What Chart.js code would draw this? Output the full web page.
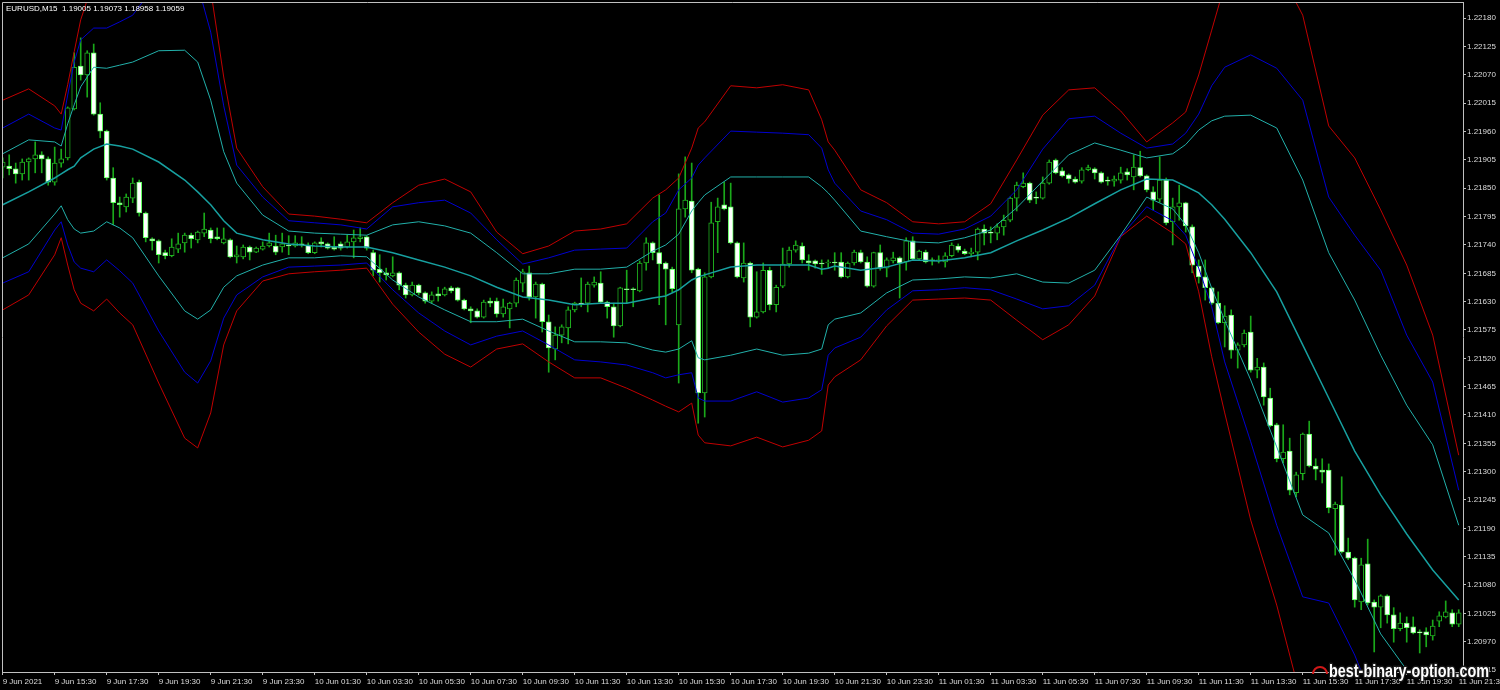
<!DOCTYPE html>
<html lang="en">
<head>
<meta charset="UTF-8">
<title>EURUSD,M15</title>
<style>
  html, body { margin: 0; padding: 0; background: #000; }
  canvas { display: block; }
</style>
</head>
<body>
<canvas id="chart" width="1500" height="690"></canvas>
<script src="https://cdn.jsdelivr.net/npm/chart.js"></script>
<script>
// M15 bars, bar 0 = 9 Jun 13:30, bar 224 = 11 Jun 21:30
const opens = [
  1.21891,1.21893,1.21888,1.21878,1.21901,1.21907,1.21915,1.21907,1.21862,1.21899,1.21909,1.22004,1.22087,1.22070,1.22113,
  1.21994,1.21961,1.21870,1.21822,1.21814,1.21831,1.21862,1.21802,1.21752,1.21748,1.21725,1.21719,1.21732,1.21744,1.21759,
  1.21750,1.21763,1.21769,1.21756,1.21744,1.21750,1.21717,1.21717,1.21736,1.21726,1.21732,1.21738,1.21738,1.21736,1.21740,
  1.21738,1.21742,1.21740,1.21725,1.21746,1.21742,1.21736,1.21742,1.21736,1.21746,1.21752,1.21756,1.21725,1.21693,1.21686,
  1.21680,1.21686,1.21662,1.21643,1.21662,1.21647,1.21631,1.21645,1.21643,1.21657,1.21657,1.21633,1.21616,1.21612,1.21600,
  1.21631,1.21631,1.21606,1.21616,1.21627,1.21666,1.21686,1.21639,1.21664,1.21591,1.21538,1.21565,1.21579,1.21614,1.21627,
  1.21627,1.21662,1.21666,1.21629,1.21620,1.21583,1.21655,1.21655,1.21651,1.21705,1.21744,1.21725,1.21705,1.21693,1.21585,
  1.21810,1.21825,1.21693,1.21453,1.21678,1.21785,1.21818,1.21814,1.21744,1.21676,1.21705,1.21600,1.21610,1.21691,1.21624,
  1.21660,1.21703,1.21730,1.21738,1.21709,1.21709,1.21705,1.21705,1.21707,1.21707,1.21678,1.21705,1.21725,1.21707,1.21660,
  1.21725,1.21695,1.21709,1.21715,1.21707,1.21748,1.21713,1.21726,1.21711,1.21709,1.21707,1.21719,1.21738,1.21728,1.21723,
  1.21726,1.21771,1.21765,1.21763,1.21775,1.21788,1.21831,1.21853,1.21860,1.21833,1.21831,1.21860,1.21905,1.21884,1.21876,
  1.21868,1.21864,1.21886,1.21888,1.21880,1.21866,1.21864,1.21866,1.21882,1.21872,1.21890,1.21874,1.21843,1.21829,1.21866,
  1.21785,1.21814,1.21822,1.21775,1.21699,1.21678,1.21657,1.21627,1.21589,1.21604,1.21536,1.21546,1.21571,1.21497,1.21503,
  1.21443,1.21391,1.21325,1.21340,1.21259,1.21296,1.21373,1.21311,1.21303,1.21303,1.21228,1.21235,1.21144,1.21132,1.21047,
  1.21121,1.21047,1.21037,1.21059,1.21022,1.20995,1.21006,1.20999,1.20989,1.20989,1.20981,1.21010,1.21018,1.21026,1.21004
];
const highs = [
  1.21909,1.21915,1.21899,1.21907,1.21909,1.21940,1.21921,1.21911,1.21930,1.21926,1.22008,1.22113,1.22142,1.22117,1.22130,
  1.22016,1.21963,1.21890,1.21833,1.21839,1.21870,1.21866,1.21804,1.21754,1.21750,1.21730,1.21752,1.21763,1.21763,1.21763,
  1.21767,1.21802,1.21773,1.21773,1.21773,1.21752,1.21738,1.21740,1.21738,1.21736,1.21746,1.21763,1.21759,1.21763,1.21758,
  1.21758,1.21756,1.21744,1.21746,1.21754,1.21744,1.21756,1.21746,1.21759,1.21769,1.21773,1.21758,1.21730,1.21721,1.21695,
  1.21717,1.21688,1.21666,1.21668,1.21664,1.21649,1.21649,1.21658,1.21658,1.21660,1.21658,1.21635,1.21620,1.21616,1.21633,
  1.21637,1.21637,1.21635,1.21629,1.21676,1.21693,1.21699,1.21668,1.21666,1.21604,1.21581,1.21585,1.21620,1.21629,1.21676,
  1.21668,1.21678,1.21688,1.21631,1.21627,1.21658,1.21691,1.21657,1.21709,1.21754,1.21746,1.21837,1.21707,1.21697,1.21878,
  1.21911,1.21899,1.21695,1.21686,1.21823,1.21831,1.21862,1.21860,1.21746,1.21744,1.21707,1.21688,1.21705,1.21697,1.21662,
  1.21734,1.21736,1.21748,1.21744,1.21721,1.21711,1.21711,1.21711,1.21725,1.21725,1.21707,1.21730,1.21730,1.21717,1.21726,
  1.21740,1.21715,1.21726,1.21717,1.21754,1.21756,1.21730,1.21730,1.21715,1.21719,1.21725,1.21744,1.21742,1.21732,1.21734,
  1.21773,1.21779,1.21775,1.21781,1.21798,1.21833,1.21862,1.21880,1.21862,1.21843,1.21872,1.21905,1.21907,1.21890,1.21878,
  1.21872,1.21890,1.21895,1.21890,1.21882,1.21872,1.21874,1.21891,1.21888,1.21915,1.21922,1.21876,1.21853,1.21911,1.21870,
  1.21831,1.21856,1.21823,1.21779,1.21711,1.21711,1.21658,1.21649,1.21622,1.21614,1.21550,1.21575,1.21602,1.21520,1.21511,
  1.21462,1.21394,1.21391,1.21365,1.21299,1.21375,1.21398,1.21325,1.21325,1.21315,1.21241,1.21290,1.21171,1.21134,1.21132,
  1.21169,1.21051,1.21061,1.21061,1.21036,1.21026,1.21018,1.21018,1.20993,1.20997,1.21012,1.21028,1.21049,1.21032,1.21032
];
const lows = [
  1.21870,1.21876,1.21860,1.21866,1.21866,1.21880,1.21880,1.21856,1.21856,1.21891,1.21905,1.22002,1.22060,1.22027,1.21992,
  1.21948,1.21866,1.21779,1.21794,1.21804,1.21822,1.21796,1.21746,1.21730,1.21705,1.21713,1.21717,1.21725,1.21726,1.21734,
  1.21744,1.21756,1.21744,1.21750,1.21742,1.21715,1.21705,1.21713,1.21711,1.21725,1.21730,1.21736,1.21721,1.21726,1.21721,
  1.21736,1.21736,1.21723,1.21723,1.21736,1.21732,1.21730,1.21730,1.21734,1.21715,1.21746,1.21730,1.21680,1.21668,1.21672,
  1.21678,1.21653,1.21637,1.21641,1.21643,1.21627,1.21627,1.21631,1.21641,1.21647,1.21631,1.21614,1.21589,1.21598,1.21598,
  1.21620,1.21600,1.21600,1.21579,1.21620,1.21649,1.21633,1.21598,1.21571,1.21493,1.21517,1.21550,1.21548,1.21610,1.21620,
  1.21610,1.21658,1.21627,1.21598,1.21561,1.21581,1.21627,1.21620,1.21649,1.21691,1.21711,1.21624,1.21585,1.21649,1.21472,
  1.21794,1.21686,1.21394,1.21406,1.21676,1.21725,1.21808,1.21742,1.21676,1.21668,1.21581,1.21598,1.21608,1.21614,1.21610,
  1.21657,1.21697,1.21726,1.21705,1.21691,1.21695,1.21683,1.21695,1.21691,1.21676,1.21676,1.21701,1.21705,1.21658,1.21658,
  1.21691,1.21678,1.21705,1.21637,1.21691,1.21711,1.21711,1.21705,1.21701,1.21705,1.21697,1.21717,1.21726,1.21721,1.21717,
  1.21711,1.21740,1.21744,1.21750,1.21759,1.21785,1.21806,1.21851,1.21822,1.21820,1.21829,1.21858,1.21878,1.21872,1.21860,
  1.21860,1.21860,1.21884,1.21868,1.21860,1.21856,1.21854,1.21860,1.21866,1.21847,1.21872,1.21843,1.21808,1.21823,1.21779,
  1.21740,1.21788,1.21765,1.21686,1.21666,1.21633,1.21624,1.21587,1.21542,1.21520,1.21501,1.21542,1.21493,1.21482,1.21429,
  1.21387,1.21319,1.21317,1.21255,1.21251,1.21284,1.21309,1.21284,1.21278,1.21220,1.21138,1.21142,1.21129,1.21037,1.21032,
  1.21041,1.20950,1.20997,1.21006,1.20969,1.20991,1.20969,1.20985,1.20948,1.20960,1.20973,1.20999,1.21016,1.20999,1.20999
];
const closes = [
  1.21901,1.21888,1.21878,1.21901,1.21907,1.21915,1.21907,1.21862,1.21899,1.21907,1.22006,1.22085,1.22070,1.22113,1.21994,
  1.21961,1.21870,1.21822,1.21818,1.21833,1.21860,1.21802,1.21754,1.21748,1.21721,1.21719,1.21736,1.21742,1.21759,1.21752,
  1.21765,1.21771,1.21752,1.21752,1.21752,1.21717,1.21721,1.21736,1.21726,1.21734,1.21738,1.21744,1.21726,1.21742,1.21738,
  1.21744,1.21740,1.21725,1.21744,1.21742,1.21734,1.21732,1.21734,1.21746,1.21754,1.21756,1.21734,1.21691,1.21686,1.21682,
  1.21686,1.21662,1.21643,1.21662,1.21647,1.21631,1.21643,1.21641,1.21655,1.21651,1.21633,1.21616,1.21612,1.21600,1.21629,
  1.21627,1.21606,1.21620,1.21627,1.21672,1.21688,1.21639,1.21664,1.21591,1.21540,1.21565,1.21581,1.21614,1.21627,1.21625,
  1.21664,1.21668,1.21629,1.21620,1.21583,1.21657,1.21653,1.21653,1.21705,1.21744,1.21725,1.21703,1.21693,1.21655,1.21810,
  1.21827,1.21691,1.21453,1.21678,1.21783,1.21814,1.21810,1.21744,1.21678,1.21705,1.21600,1.21610,1.21691,1.21624,1.21658,
  1.21703,1.21730,1.21740,1.21711,1.21705,1.21703,1.21703,1.21707,1.21705,1.21678,1.21705,1.21726,1.21707,1.21660,1.21725,
  1.21695,1.21711,1.21715,1.21705,1.21748,1.21713,1.21728,1.21707,1.21709,1.21711,1.21719,1.21740,1.21730,1.21723,1.21726,
  1.21771,1.21763,1.21763,1.21775,1.21788,1.21831,1.21856,1.21860,1.21827,1.21831,1.21860,1.21901,1.21880,1.21874,1.21868,
  1.21862,1.21886,1.21890,1.21880,1.21862,1.21864,1.21868,1.21880,1.21876,1.21891,1.21874,1.21847,1.21827,1.21866,1.21783,
  1.21814,1.21822,1.21777,1.21701,1.21678,1.21657,1.21627,1.21589,1.21602,1.21536,1.21546,1.21569,1.21497,1.21503,1.21445,
  1.21389,1.21325,1.21338,1.21264,1.21294,1.21373,1.21311,1.21305,1.21299,1.21230,1.21237,1.21144,1.21132,1.21051,1.21119,
  1.21045,1.21037,1.21059,1.21022,1.20995,1.21006,1.20997,1.20987,1.20987,1.20983,1.21000,1.21020,1.21028,1.21004,1.21026
];

// envelope lines, read at these bar indexes
const bandBars = [0,4,8,9,10,11,12,14,16,18,20,24,28,30,32,34,36,40,44,48,52,56,60,64,68,72,76,80,84,88,92,96,100,102,104,106,107,108,112,116,120,124,126,127,128,132,136,140,144,148,152,156,160,164,168,172,176,180,182,184,186,188,192,196,200,204,208,212,216,220,224];
const midBand = [
  1.21818,1.21843,1.21870,1.21878,1.21886,1.21893,1.21909,1.21926,1.21936,1.21932,
  1.21926,1.21901,1.21866,1.21843,1.21818,1.21787,1.21763,1.21750,1.21742,1.21738,
  1.21736,1.21736,1.21725,1.21711,1.21697,1.21680,1.21658,1.21639,1.21633,1.21624,
  1.21627,1.21627,1.21637,1.21641,1.21653,1.21672,1.21678,1.21682,1.21697,1.21701,
  1.21701,1.21701,1.21693,1.21695,1.21699,1.21691,1.21697,1.21711,1.21709,1.21715,
  1.21725,1.21748,1.21769,1.21792,1.21820,1.21847,1.21868,1.21866,1.21854,1.21841,
  1.21818,1.21790,1.21725,1.21649,1.21546,1.21443,1.21340,1.21255,1.21179,1.21109,1.21051
];
const upper1 = [
  1.21917,1.21944,1.21940,1.21932,1.21975,1.22012,1.22047,1.22085,1.22083,1.22089,
  1.22095,1.22117,1.22118,1.22095,1.22021,1.21921,1.21860,1.21798,1.21767,1.21763,
  1.21761,1.21759,1.21779,1.21785,1.21777,1.21763,1.21725,1.21684,1.21684,1.21693,
  1.21693,1.21697,1.21728,1.21740,1.21761,1.21806,1.21822,1.21837,1.21872,1.21872,
  1.21872,1.21872,1.21853,1.21841,1.21827,1.21767,1.21756,1.21746,1.21744,1.21754,
  1.21769,1.21812,1.21864,1.21915,1.21938,1.21924,1.21909,1.21917,1.21935,1.21963,
  1.21981,1.21990,1.21992,1.21967,1.21866,1.21725,1.21633,1.21526,1.21429,1.21352,1.21196
];
const lower1 = [
  1.21715,1.21742,1.21800,1.21816,1.21789,1.21771,1.21763,1.21767,1.21785,1.21773,
  1.21754,1.21680,1.21612,1.21596,1.21614,1.21658,1.21680,1.21701,1.21715,1.21715,
  1.21719,1.21717,1.21672,1.21639,1.21614,1.21591,1.21591,1.21596,1.21573,1.21552,
  1.21552,1.21550,1.21536,1.21532,1.21538,1.21554,1.21521,1.21517,1.21526,1.21538,
  1.21526,1.21530,1.21538,1.21585,1.21596,1.21608,1.21647,1.21672,1.21674,1.21678,
  1.21676,1.21684,1.21668,1.21666,1.21691,1.21759,1.21833,1.21810,1.21779,1.21725,
  1.21656,1.21594,1.21478,1.21348,1.21216,1.21181,1.21090,1.20985,1.20915,1.20857,1.20799
];
const upper2 = [
  1.21967,1.21994,1.21967,1.21963,1.22031,1.22095,1.22138,1.22161,1.22161,1.22173,
  1.22186,1.22254,1.22274,1.22245,1.22153,1.22010,1.21895,1.21833,1.21787,1.21783,
  1.21779,1.21771,1.21814,1.21822,1.21827,1.21802,1.21750,1.21703,1.21715,1.21730,
  1.21732,1.21734,1.21785,1.21802,1.21847,1.21870,1.21895,1.21909,1.21961,1.21959,
  1.21957,1.21954,1.21928,1.21886,1.21860,1.21806,1.21789,1.21763,1.21761,1.21771,
  1.21796,1.21847,1.21926,1.21985,1.21990,1.21957,1.21928,1.21936,1.21957,1.21994,
  1.22049,1.22085,1.22109,1.22083,1.22021,1.21833,1.21759,1.21691,1.21565,1.21474,1.21264
];
const lower2 = [
  1.21666,1.21688,1.21769,1.21785,1.21740,1.21707,1.21695,1.21688,1.21711,1.21690,
  1.21666,1.21573,1.21493,1.21472,1.21515,1.21598,1.21643,1.21678,1.21697,1.21699,
  1.21701,1.21705,1.21653,1.21608,1.21573,1.21546,1.21563,1.21573,1.21546,1.21517,
  1.21513,1.21507,1.21492,1.21482,1.21488,1.21492,1.21443,1.21437,1.21437,1.21455,
  1.21435,1.21443,1.21459,1.21526,1.21540,1.21561,1.21614,1.21651,1.21653,1.21657,
  1.21653,1.21635,1.21616,1.21622,1.21662,1.21757,1.21814,1.21787,1.21759,1.21695,
  1.21620,1.21513,1.21358,1.21196,1.21057,1.21045,1.20944,1.20818,1.20740,1.20682,1.20624
];
const upper3 = [
  1.22021,1.22043,1.22010,1.21994,1.22051,1.22115,1.22177,1.22254,1.22293,1.22322,
  1.22342,1.22371,1.22371,1.22332,1.22235,1.22066,1.21928,1.21853,1.21800,1.21796,
  1.21790,1.21783,1.21822,1.21856,1.21868,1.21843,1.21765,1.21723,1.21738,1.21767,
  1.21771,1.21781,1.21831,1.21847,1.21870,1.21928,1.21967,1.21979,1.22049,1.22045,
  1.22051,1.22041,1.21983,1.21940,1.21924,1.21847,1.21822,1.21785,1.21781,1.21785,
  1.21820,1.21905,1.21992,1.22041,1.22045,1.22000,1.21940,1.21977,1.21998,1.22070,
  1.22157,1.22245,1.22313,1.22283,1.22186,1.21971,1.21909,1.21808,1.21701,1.21565,1.21332
];
const lower3 = [
  1.21614,1.21643,1.21721,1.21754,1.21701,1.21653,1.21627,1.21612,1.21635,1.21608,
  1.21585,1.21472,1.21365,1.21346,1.21414,1.21546,1.21612,1.21670,1.21684,1.21688,
  1.21691,1.21695,1.21625,1.21571,1.21528,1.21503,1.21538,1.21548,1.21513,1.21482,
  1.21482,1.21462,1.21439,1.21427,1.21416,1.21433,1.21371,1.21356,1.21350,1.21367,
  1.21348,1.21361,1.21379,1.21468,1.21484,1.21517,1.21583,1.21633,1.21635,1.21637,
  1.21633,1.21594,1.21556,1.21585,1.21641,1.21756,1.21796,1.21763,1.21742,1.21649,
  1.21523,1.21414,1.21206,1.21041,1.20847,1.20702,1.20605,1.20507,1.20430,1.20372,1.20313
];

const timeTicks = [0,8,16,24,32,40,48,56,64,72,80,88,96,104,112,120,128,136,144,152,160,168,176,184,192,200,208,216,224];
const timeLabels = ['9 Jun 2021','9 Jun 15:30','9 Jun 17:30','9 Jun 19:30','9 Jun 21:30','9 Jun 23:30',
  '10 Jun 01:30','10 Jun 03:30','10 Jun 05:30','10 Jun 07:30','10 Jun 09:30','10 Jun 11:30','10 Jun 13:30',
  '10 Jun 15:30','10 Jun 17:30','10 Jun 19:30','10 Jun 21:30','10 Jun 23:30','11 Jun 01:30','11 Jun 03:30',
  '11 Jun 05:30','11 Jun 07:30','11 Jun 09:30','11 Jun 11:30','11 Jun 13:30','11 Jun 15:30','11 Jun 17:30',
  '11 Jun 19:30','11 Jun 21:30'];
const priceTicks = [1.22180,1.22125,1.22070,1.22015,1.21960,1.21905,1.21850,1.21795,1.21740,1.21685,1.21630,1.21575,
  1.21520,1.21465,1.21410,1.21355,1.21300,1.21245,1.21190,1.21135,1.21080,1.21025,1.20970,1.20915];

const symbolLine = 'EURUSD,M15  1.19005 1.19073 1.18958 1.19059';
const watermark = 'best-binary-option.com';

const AXIS = '#c0c0c0';
const LABEL = '#dcdcdc';

Chart.defaults.font.family = '"Liberation Sans", Arial, sans-serif';

const barIdx = opens.map((o, i) => i);
const bear = i => closes[i] < opens[i];

function bandLine(values, color, width) {
  return {
    type: 'line',
    data: bandBars.map((b, k) => ({ x: b, y: values[k] })),
    borderColor: color,
    borderWidth: width,
    pointRadius: 0,
    tension: 0,
    order: 0
  };
}

const mtLook = {
  id: 'mtLook',
  beforeDraw(chart) {
    const c = chart.ctx;
    c.save();
    c.fillStyle = '#000';
    c.fillRect(0, 0, chart.width, chart.height);
    c.restore();
  },
  afterDraw(chart) {
    const c = chart.ctx, a = chart.chartArea;
    c.save();
    // left and top edges of the frame
    c.strokeStyle = AXIS;
    c.lineWidth = 1;
    c.beginPath();
    c.moveTo(a.left + 0.5, a.bottom);
    c.lineTo(a.left + 0.5, a.top + 0.5);
    c.lineTo(a.right, a.top + 0.5);
    c.stroke();

    c.fillStyle = '#ffffff';
    c.font = '8px "Liberation Sans"';
    c.textBaseline = 'middle';
    c.fillText(symbolLine, 6, 9);

    // site logo + watermark
    c.beginPath();
    c.arc(1320, 674, 7, Math.PI, 2 * Math.PI);
    c.strokeStyle = '#d01818';
    c.lineWidth = 2;
    c.stroke();

    c.font = 'bold 18px "Liberation Sans"';
    c.textBaseline = 'alphabetic';
    const w = c.measureText(watermark).width;
    c.translate(1329, 677);
    c.scale(160 / w, 1);
    c.lineJoin = 'round';
    c.lineWidth = 3;
    c.strokeStyle = '#1a1a1a';
    c.strokeText(watermark, 0, 0);
    c.fillStyle = '#ffffff';
    c.fillText(watermark, 0, 0);
    c.restore();
  }
};

new Chart(document.getElementById('chart'), {
  type: 'bar',
  data: {
    datasets: [
      bandLine(midBand, '#17a0a0', 1.5),
      bandLine(upper1, '#22b0aa', 1),
      bandLine(lower1, '#22b0aa', 1),
      bandLine(upper2, '#0000d0', 1),
      bandLine(lower2, '#0000d0', 1),
      bandLine(upper3, '#c00000', 1),
      bandLine(lower3, '#c00000', 1),
      {
        type: 'bar',
        data: barIdx.map(i => ({ x: i, y: [opens[i], closes[i]] })),
        backgroundColor: barIdx.map(i => bear(i) ? '#ffffff' : '#000000'),
        borderColor: barIdx.map(i => bear(i) ? '#5cff5c' : '#1fb01f'),
        borderWidth: 1,
        borderSkipped: false,
        barThickness: 5,
        grouped: false,
        order: 1
      },
      {
        type: 'bar',
        data: barIdx.map(i => ({ x: i, y: [lows[i], highs[i]] })),
        backgroundColor: '#1aa81a',
        borderWidth: 0,
        barThickness: 1,
        grouped: false,
        order: 2
      }
    ]
  },
  options: {
    responsive: false,
    animation: false,
    events: [],
    layout: { padding: { top: 2, left: 2, right: 0, bottom: 0 } },
    plugins: { legend: { display: false }, tooltip: { enabled: false } },
    scales: {
      x: {
        type: 'linear',
        position: 'bottom',
        min: -0.108,
        max: 224.66,
        offset: false,
        grid: { display: true, offset: false, drawOnChartArea: false, drawTicks: true, tickLength: 3, color: AXIS },
        border: { display: true, color: AXIS, width: 1 },
        ticks: {
          autoSkip: false, maxRotation: 0, minRotation: 0, align: 'start', padding: 2,
          color: LABEL, font: { size: 8 },
          callback: (v, i) => timeLabels[i]
        },
        afterBuildTicks: s => { s.ticks = timeTicks.map(v => ({ value: v })); },
        afterFit: s => { s.height = 18; s.paddingLeft = 0; s.paddingRight = 0; }
      },
      y: {
        type: 'linear',
        position: 'right',
        min: 1.209111,
        max: 1.222116,
        grid: { display: true, drawOnChartArea: false, drawTicks: true, tickLength: 3, color: AXIS },
        border: { display: true, color: AXIS, width: 1 },
        ticks: {
          autoSkip: false, padding: 1, color: LABEL, font: { size: 8 },
          callback: v => v.toFixed(5)
        },
        afterBuildTicks: s => { s.ticks = priceTicks.map(v => ({ value: v })); },
        afterFit: s => { s.width = 37; s.paddingTop = 0; s.paddingBottom = 0; }
      }
    }
  },
  plugins: [mtLook]
});
</script>
</body>
</html>
